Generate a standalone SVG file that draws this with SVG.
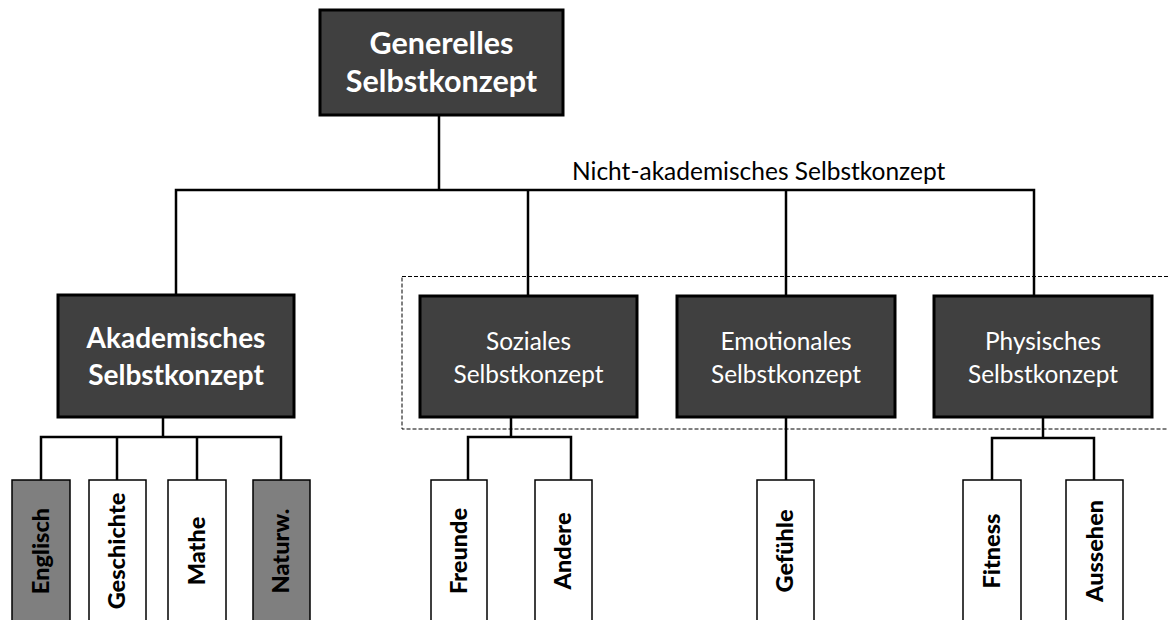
<svg xmlns="http://www.w3.org/2000/svg" width="1168" height="620" viewBox="0 0 1168 620">
  <style>
    .dark { fill: #404040; stroke: #000; stroke-width: 3; }
    .leaf { fill: #fff; stroke: #000; stroke-width: 1.5; }
    .leaf.grey { fill: #7f7f7f; }
    .wire { fill: none; stroke: #000; stroke-width: 2.5; }
    .t-head { font-family: Lato, "Open Sans", sans-serif; font-weight: bold; fill: #fff; text-anchor: middle; }
    .t-mid { font-family: Lato, "Open Sans", sans-serif; fill: #fff; text-anchor: middle; font-size: 24.4px; }
    .t-leaf { font-family: Lato, "Open Sans", sans-serif; font-weight: 900; fill: #000; text-anchor: middle; font-size: 23.5px; }
    .t-note { font-family: Lato, "Open Sans", sans-serif; fill: #000; font-size: 24.5px; }
  </style>

  <!-- grouping frame for the non-academic branch -->
  <rect id="group-frame" x="402" y="276.5" width="780" height="152.5" fill="none" stroke="#000" stroke-width="1" stroke-dasharray="4 2"/>
  <text class="t-note" x="572" y="180">Nicht-akademisches Selbstkonzept</text>

  <g id="connectors">
    <polyline class="wire" points="439,115 439,190"/>
    <polyline class="wire" points="176,295 176,190 1034,190 1034,296"/>
    <polyline class="wire" points="528,190 528,296"/>
    <polyline class="wire" points="786,190 786,296"/>
    <!-- academic subjects -->
    <polyline class="wire" points="163,417 163,437"/>
    <polyline class="wire" points="41,480 41,437 281,437 281,480"/>
    <polyline class="wire" points="117,437 117,480"/>
    <polyline class="wire" points="197,437 197,480"/>
    <!-- social -->
    <polyline class="wire" points="511,417 511,437"/>
    <polyline class="wire" points="468,480 468,437 571,437 571,480"/>
    <!-- emotional -->
    <polyline class="wire" points="786,417 786,480"/>
    <!-- physical -->
    <polyline class="wire" points="1043,417 1043,438"/>
    <polyline class="wire" points="992,480 992,438 1094,438 1094,480"/>
  </g>

  <g id="generelles">
    <rect class="dark" x="320" y="10" width="243" height="105"/>
    <text class="t-head" x="441.5" y="54" font-size="30.5">Generelles</text>
    <text class="t-head" x="441.5" y="92" font-size="30.5">Selbstkonzept</text>
  </g>

  <g id="akademisch">
    <rect class="dark" x="58" y="295" width="236" height="122"/>
    <text class="t-head" x="176" y="348" font-size="28">Akademisches</text>
    <text class="t-head" x="176" y="385" font-size="28">Selbstkonzept</text>
  </g>

  <g id="sozial">
    <rect class="dark" x="420" y="296" width="217" height="121"/>
    <text class="t-mid" x="528.5" y="350">Soziales</text>
    <text class="t-mid" x="528.5" y="383">Selbstkonzept</text>
  </g>

  <g id="emotional">
    <rect class="dark" x="677" y="296" width="218" height="121"/>
    <text class="t-mid" x="786" y="350">Emotionales</text>
    <text class="t-mid" x="786" y="383">Selbstkonzept</text>
  </g>

  <g id="physisch">
    <rect class="dark" x="934" y="296" width="218" height="121"/>
    <text class="t-mid" x="1043" y="350">Physisches</text>
    <text class="t-mid" x="1043" y="383">Selbstkonzept</text>
  </g>

  <g id="englisch">
    <rect class="leaf grey" x="12" y="480" width="58" height="150"/>
    <text class="t-leaf" transform="translate(49,551) rotate(-90)">Englisch</text>
  </g>
  <g id="geschichte">
    <rect class="leaf" x="89" y="480" width="57" height="150"/>
    <text class="t-leaf" transform="translate(125,551) rotate(-90)">Geschichte</text>
  </g>
  <g id="mathe">
    <rect class="leaf" x="168" y="480" width="58" height="150"/>
    <text class="t-leaf" transform="translate(205,551) rotate(-90)">Mathe</text>
  </g>
  <g id="naturw">
    <rect class="leaf grey" x="253" y="480" width="57" height="150"/>
    <text class="t-leaf" transform="translate(289,551) rotate(-90)">Naturw.</text>
  </g>
  <g id="freunde">
    <rect class="leaf" x="431" y="480" width="56" height="150"/>
    <text class="t-leaf" transform="translate(467,551) rotate(-90)">Freunde</text>
  </g>
  <g id="andere">
    <rect class="leaf" x="535" y="480" width="57" height="150"/>
    <text class="t-leaf" transform="translate(571,551) rotate(-90)">Andere</text>
  </g>
  <g id="gefuehle">
    <rect class="leaf" x="757" y="480" width="57" height="150"/>
    <text class="t-leaf" transform="translate(793,551) rotate(-90)">Gefühle</text>
  </g>
  <g id="fitness">
    <rect class="leaf" x="963" y="480" width="58" height="150"/>
    <text class="t-leaf" transform="translate(1000,551) rotate(-90)">Fitness</text>
  </g>
  <g id="aussehen">
    <rect class="leaf" x="1066" y="480" width="57" height="150"/>
    <text class="t-leaf" transform="translate(1103,551) rotate(-90)">Aussehen</text>
  </g>
</svg>
